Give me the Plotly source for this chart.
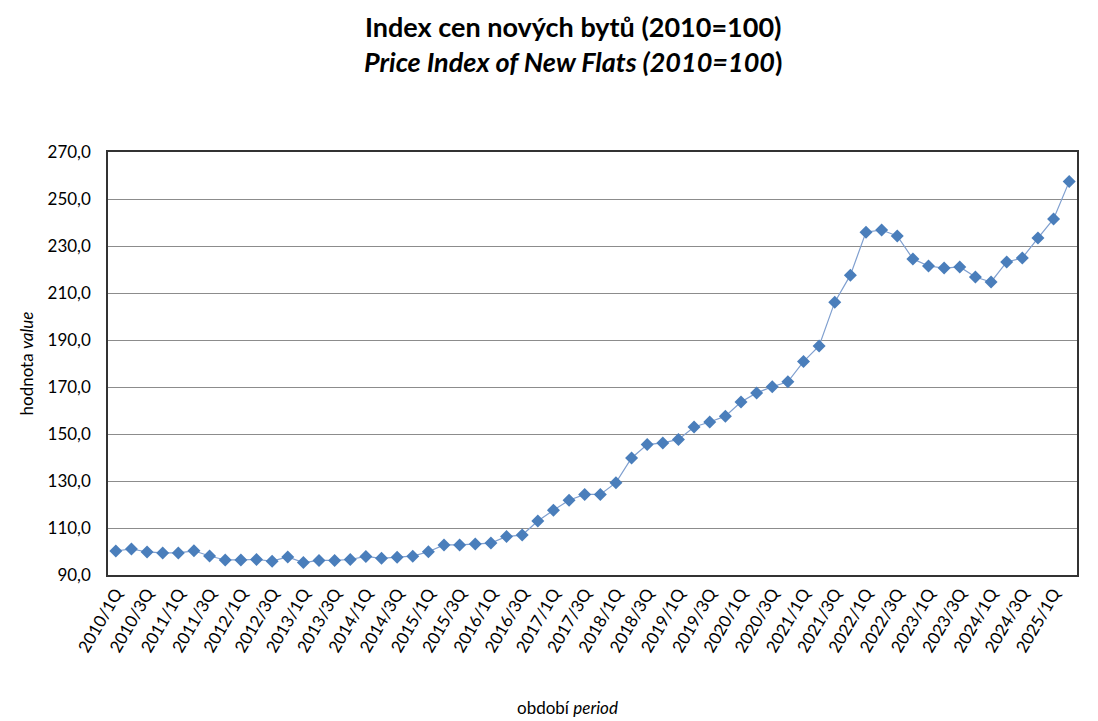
import plotly.graph_objects as go

years = list(range(2010, 2026))
periods = [f"{y}/{q}Q" for y in years for q in range(1, 5)][:62]

values = [100.2, 101.1, 99.8, 99.4, 99.4, 100.3, 98.1, 96.4, 96.4, 96.6,
          95.9, 97.7, 95.3, 96.2, 96.2, 96.6, 97.9, 97.1, 97.6, 98.0,
          99.9, 102.8, 102.8, 103.2, 103.6, 106.4, 107.0, 113.0, 117.6, 121.8,
          124.3, 124.3, 129.3, 139.8, 145.5, 146.2, 147.7, 153.0, 155.1, 157.6,
          163.6, 167.5, 170.1, 172.2, 180.8, 187.5, 206.1, 217.6, 235.9, 236.8,
          234.3, 224.5, 221.5, 220.6, 221.1, 216.8, 214.7, 223.2, 224.9, 233.4,
          241.5, 257.4]

tick_labels = periods[::2]
y_ticks = [90, 110, 130, 150, 170, 190, 210, 230, 250, 270]

title_cz = "Index cen nových bytů (2010=100)"
title_en = "Price Index of New Flats (2010=100"
x_title = "období <i>period</i>"
y_title = "hodnota <i>value</i>"

FONT = "Lato"
OFF = 8  # page body adds 8px offset
W, H = 1098 - OFF, 721 - OFF
L, R, T, B = 100, 21, 144, 146
PH = H - T - B
PW = W - L - R


def px_x(page_x):
    return (page_x - OFF - L) / PW


def px_y(page_y):
    return 1 - (page_y - OFF - T) / PH


fig = go.Figure()
fig.add_trace(go.Scatter(
    x=periods, y=values, mode="lines+markers",
    line=dict(color="#7f9fcf", width=1.2),
    marker=dict(symbol="diamond", size=10, color="#4a7ebb",
                line=dict(color="#4a7ebb", width=0)),
    hoverinfo="x+y", showlegend=False,
))

fig.add_annotation(text=f"<b>{title_cz}</b>", xref="paper", yref="paper",
                   x=px_x(573), y=px_y(27),
                   xanchor="center", yanchor="middle", showarrow=False,
                   font=dict(family=FONT, size=27, color="black"))
fig.add_annotation(text=f"<b><i>{title_en}</i>)</b>", xref="paper", yref="paper",
                   x=px_x(573), y=px_y(61),
                   xanchor="center", yanchor="middle", showarrow=False,
                   font=dict(family=FONT, size=27, color="black"))
fig.add_annotation(text=x_title, xref="paper", yref="paper",
                   x=px_x(567), y=px_y(707),
                   xanchor="center", yanchor="middle", showarrow=False,
                   font=dict(family=FONT, size=17, color="black"))

fig.update_layout(
    width=W, height=H,
    paper_bgcolor="white", plot_bgcolor="white",
    margin=dict(l=L, r=R, t=T, b=B),
    separators=",.",
    font=dict(family=FONT, color="black"),
    xaxis=dict(
        type="category", automargin=False,
        categoryorder="array", categoryarray=periods,
        range=[-0.5, len(periods) - 0.5],
        tickmode="array", tickvals=tick_labels, ticktext=tick_labels,
        tickangle=-60, ticks="", showgrid=False,
        tickfont=dict(family=FONT, size=17, color="black"),
        showline=True, linecolor="#333333", linewidth=1.5, mirror=True,
    ),
    yaxis=dict(
        range=[90, 270], tickvals=y_ticks, tickformat=".1f", automargin=False,
        showgrid=True, gridcolor="#8c8c8c", gridwidth=1,
        showline=True, linecolor="#333333", linewidth=1.5, mirror=True,
        ticks="", zeroline=False, ticklabelstandoff=12,
        tickfont=dict(family=FONT, size=17, color="black"),
        title=dict(text=y_title, font=dict(family=FONT, size=17), standoff=10),
    ),
)

fig.write_html("out.html")
